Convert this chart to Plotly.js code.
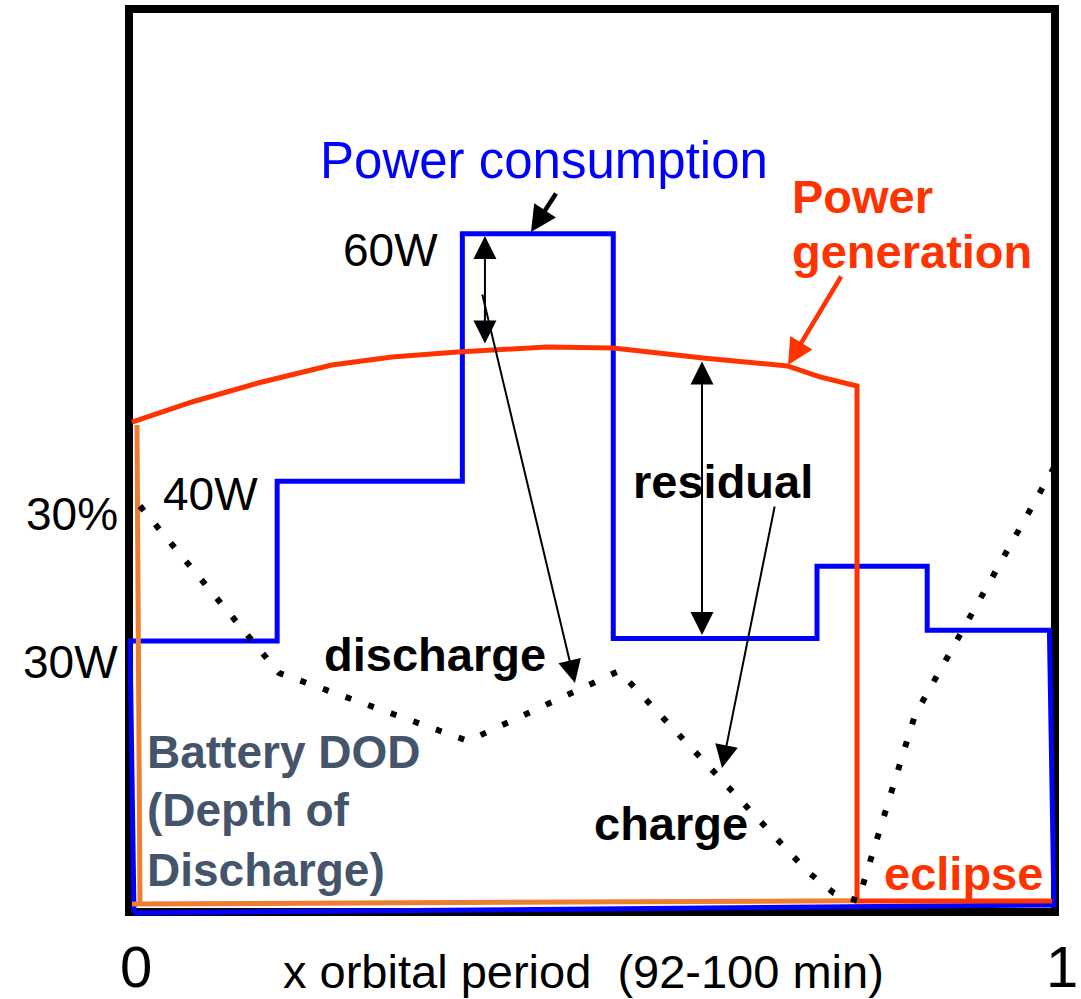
<!DOCTYPE html>
<html>
<head>
<meta charset="utf-8">
<script src="https://cdn.plot.ly/plotly-3.0.1.min.js"></script>
<style>
  html, body { margin: 0; padding: 0; background: #ffffff; }
  #chart { width: 1081px; height: 999px; }
</style>
</head>
<body>
<div id="chart"></div>
<script>
// x: fraction of one orbital period (0..1)
// y: relative level inside the frame (0 = bottom, 100 = top of frame)

// Power consumption (blue step profile, closed to the baseline)
const consumptionX = [0.0054, 0.0011, 0.160, 0.160, 0.360, 0.360, 0.523, 0.523, 0.743, 0.743, 0.862, 0.862, 0.994, 0.9989, 0.0054];
const consumptionY = [-0.1, 30.0, 30.0, 47.7, 47.7, 75.1, 75.1, 30.3, 30.3, 38.3, 38.3, 31.2, 31.2, 0.78, -0.1];

// Power generation (red curve, then eclipse)
const generationX = [0.0032, 0.068, 0.1393, 0.190, 0.219, 0.284, 0.355, 0.451, 0.523, 0.620, 0.711, 0.746, 0.7862, 0.7862, 0.997];
const generationY = [54.26, 56.48, 58.58, 59.80, 60.58, 61.46, 62.02, 62.57, 62.46, 61.35, 60.47, 59.25, 58.25, 1.22, 1.22];

// Sunlit window outline (orange)
const sunlitX = [0.00864, 0.01188, 0.00324, 0.7862];
const sunlitY = [53.93, 0.886, 0.886, 1.25];

// Battery depth of discharge (dotted)
const dodX = [0.01188, 0.1620, 0.3661, 0.5292, 0.7333, 0.7613, 0.7873, 0.8488, 1.0022];
const dodY = [44.96, 26.47, 18.94, 26.69, 4.43, 2.10, 1.22, 21.82, 49.83];

// Text labels
const levelLabels = ['60W', '40W', '30%', '30W'];
const levelLabelX = [0.2819, 0.0875, -0.0616, -0.0637];
const levelLabelY = [73.31, 46.29, 44.07, 27.74];

const boldLabels = ['residual', 'discharge', 'charge'];
const boldLabelX = [0.6420, 0.3305, 0.5853];
const boldLabelY = [47.73, 28.57, 9.75];

const dodLines = ['Battery DOD', '(Depth of', 'Discharge)'];
const dodLineY = [17.72, 11.30, 4.65];

const periodTicks = ['0', '1'];
const periodTickX = [0.00756, 1.0076];

const FONT = 'Liberation Sans, Arial, sans-serif';
const BLUE = '#0000FF', RED = '#FF3300', ORANGE = '#ED7D31', SLATE = '#44546A';

const traces = [
  { x: consumptionX, y: consumptionY, mode: 'lines', line: { color: BLUE, width: 5 }, hoverinfo: 'skip' },
  { x: sunlitX, y: sunlitY, mode: 'lines', line: { color: ORANGE, width: 5 }, hoverinfo: 'skip' },
  { x: generationX, y: generationY, mode: 'lines', line: { color: RED, width: 5 }, hoverinfo: 'skip' },
  { x: dodX, y: dodY, mode: 'lines', line: { color: '#000000', width: 6, dash: '6px,18px' }, hoverinfo: 'skip' }
];

const ann = [];
function txt(text, x, y, size, color, weight, xanchor) {
  ann.push({ text: text, x: x, y: y, xref: 'x', yref: 'y', showarrow: false,
    xanchor: xanchor || 'center', yanchor: 'middle',
    font: { family: FONT, size: size, color: color, weight: weight || 400 } });
}
function arrow(x, y, ax, ay, color, width, size, both) {
  ann.push({ text: '', x: x, y: y, ax: ax, ay: ay, xref: 'x', yref: 'y', axref: 'x', ayref: 'y',
    showarrow: true, arrowcolor: color, arrowwidth: width, arrowhead: 2, arrowsize: size,
    startarrowhead: 2, startarrowsize: size, arrowside: both ? 'end+start' : 'end', standoff: 0, startstandoff: 0 });
}

txt('Power consumption', 0.4482, 83.23, 51, BLUE, 400);
txt('Power', 0.7138, 79.29, 47, RED, 700, 'left');
txt('generation', 0.7138, 73.20, 47, RED, 700, 'left');
for (let i = 0; i < levelLabels.length; i++) txt(levelLabels[i], levelLabelX[i], levelLabelY[i], 46, '#000000', 400);
for (let i = 0; i < boldLabels.length; i++) txt(boldLabels[i], boldLabelX[i], boldLabelY[i], 47, '#000000', 700);
for (let i = 0; i < dodLines.length; i++) txt(dodLines[i], 0.01728, dodLineY[i], 46, SLATE, 700, 'left');
txt('eclipse', 0.9017, 4.21, 47, RED, 700);
for (let i = 0; i < periodTicks.length; i++) txt(periodTicks[i], periodTickX[i], -6.04, 58, '#000000', 400);
txt('x orbital period\u00a0\u00a0(92-100 min)', 0.4903, -6.64, 47, '#000000', 400);

arrow(0.4341, 75.30, 0.4622, 79.73, '#000000', 4.5, 1.15, false); // to consumption
arrow(0.7117, 60.58, 0.7700, 70.54, RED, 4.5, 1.15, false);       // to generation
arrow(0.3844, 74.86, 0.3844, 62.79, '#000000', 2, 2.3, true);     // 60W gap
arrow(0.4816, 25.36, 0.3812, 68.55, '#000000', 2, 2.3, false);    // discharge
arrow(0.6188, 30.68, 0.6188, 61.13, '#000000', 2, 2.3, true);     // residual
arrow(0.6404, 15.95, 0.6976, 45.07, '#000000', 2, 2.3, false);    // charge

const layout = {
  width: 1081, height: 999,
  margin: { l: 0, r: 0, t: 0, b: 0, pad: 0 },
  paper_bgcolor: '#ffffff', plot_bgcolor: '#ffffff',
  showlegend: false,
  xaxis: { range: [-0.1393, 1.0281], visible: false, fixedrange: true },
  yaxis: { range: [-9.635, 100.997], visible: false, fixedrange: true },
  shapes: [
    { type: 'rect', xref: 'x', yref: 'y', x0: 0, x1: 1, y0: 0, y1: 100,
      line: { color: '#000000', width: 8 }, fillcolor: 'rgba(0,0,0,0)', layer: 'below' }
  ],
  annotations: ann
};

Plotly.newPlot('chart', traces, layout, { staticPlot: true, displayModeBar: false });
</script>
</body>
</html>
